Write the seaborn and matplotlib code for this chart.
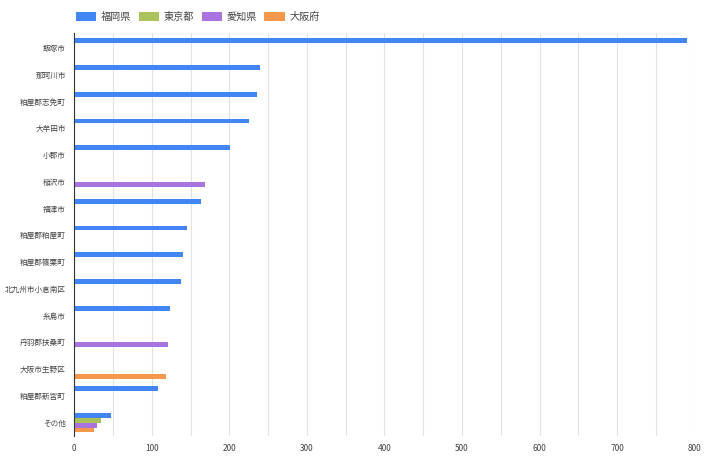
import matplotlib
matplotlib.use("Agg")
import matplotlib.pyplot as plt
import seaborn as sns
import pandas as pd
import numpy as np

categories = ["飯塚市", "那珂川市", "粕屋郡志免町", "大牟田市", "小郡市", "稲沢市", "福津市",
              "粕屋郡粕屋町", "粕屋郡篠栗町", "北九州市小倉南区", "糸島市", "丹羽郡扶桑町",
              "大阪市生野区", "粕屋郡新宮町", "その他"]
series = ["福岡県", "東京都", "愛知県", "大阪府"]
fukuoka = [790, 239, 236, 226, 201, 0, 164, 146, 140, 138, 124, 0, 0, 108, 47]
tokyo   = [0, 0, 0, 0, 0, 0, 0, 0, 0, 0, 0, 0, 0, 0, 35]
aichi   = [0, 0, 0, 0, 0, 169, 0, 0, 0, 0, 0, 121, 0, 0, 30]
osaka   = [0, 0, 0, 0, 0, 0, 0, 0, 0, 0, 0, 0, 119, 0, 26]
colors = ["#4285f4", "#abc15b", "#a974e0", "#f5984c"]

rows = []
for s, vals in zip(series, [fukuoka, tokyo, aichi, osaka]):
    for c, v in zip(categories, vals):
        rows.append({"cat": c, "series": s, "value": v})
df = pd.DataFrame(rows)

sns.set_style("white")
plt.rcParams['font.family'] = ['Noto Sans CJK JP', 'DejaVu Sans']

fig, ax = plt.subplots(figsize=(7.2, 4.73), dpi=100)
fig.subplots_adjust(left=0.103, right=0.965, top=0.93, bottom=0.078)

sns.barplot(data=df, y="cat", x="value", hue="series", order=categories,
            hue_order=series, palette=colors, orient="h", width=0.72,
            linewidth=0, saturation=1, ax=ax, legend=True, errorbar=None)

ax.set_xlim(0, 800)
ax.set_ylim(len(categories) - 0.5, -0.55)
ax.set_xticks(np.arange(0, 801, 100))
ax.set_xticks(np.arange(50, 800, 100), minor=True)
ax.grid(axis="x", which="both", color="#e2e2e2", linewidth=0.8)
ax.set_axisbelow(True)
for sp in ["top", "right", "bottom"]:
    ax.spines[sp].set_visible(False)
ax.spines["left"].set_color("#333333")
ax.spines["left"].set_linewidth(0.8)
ax.tick_params(axis="y", length=0, labelsize=5.5, colors="#444444", pad=6)
ax.tick_params(axis="x", which="both", length=0, labelsize=6, colors="#444444", pad=6)
ax.set_xlabel("")
ax.set_ylabel("")

leg = ax.legend(loc="lower left", bbox_to_anchor=(0.003, 1.028), ncol=4, frameon=False,
                fontsize=7.3, handlelength=2.0, handleheight=0.9, columnspacing=0.75,
                handletextpad=0.45, borderaxespad=0, borderpad=0)
for t in leg.get_texts():
    t.set_color("#444444")

fig.savefig("out.png", dpi=100)
